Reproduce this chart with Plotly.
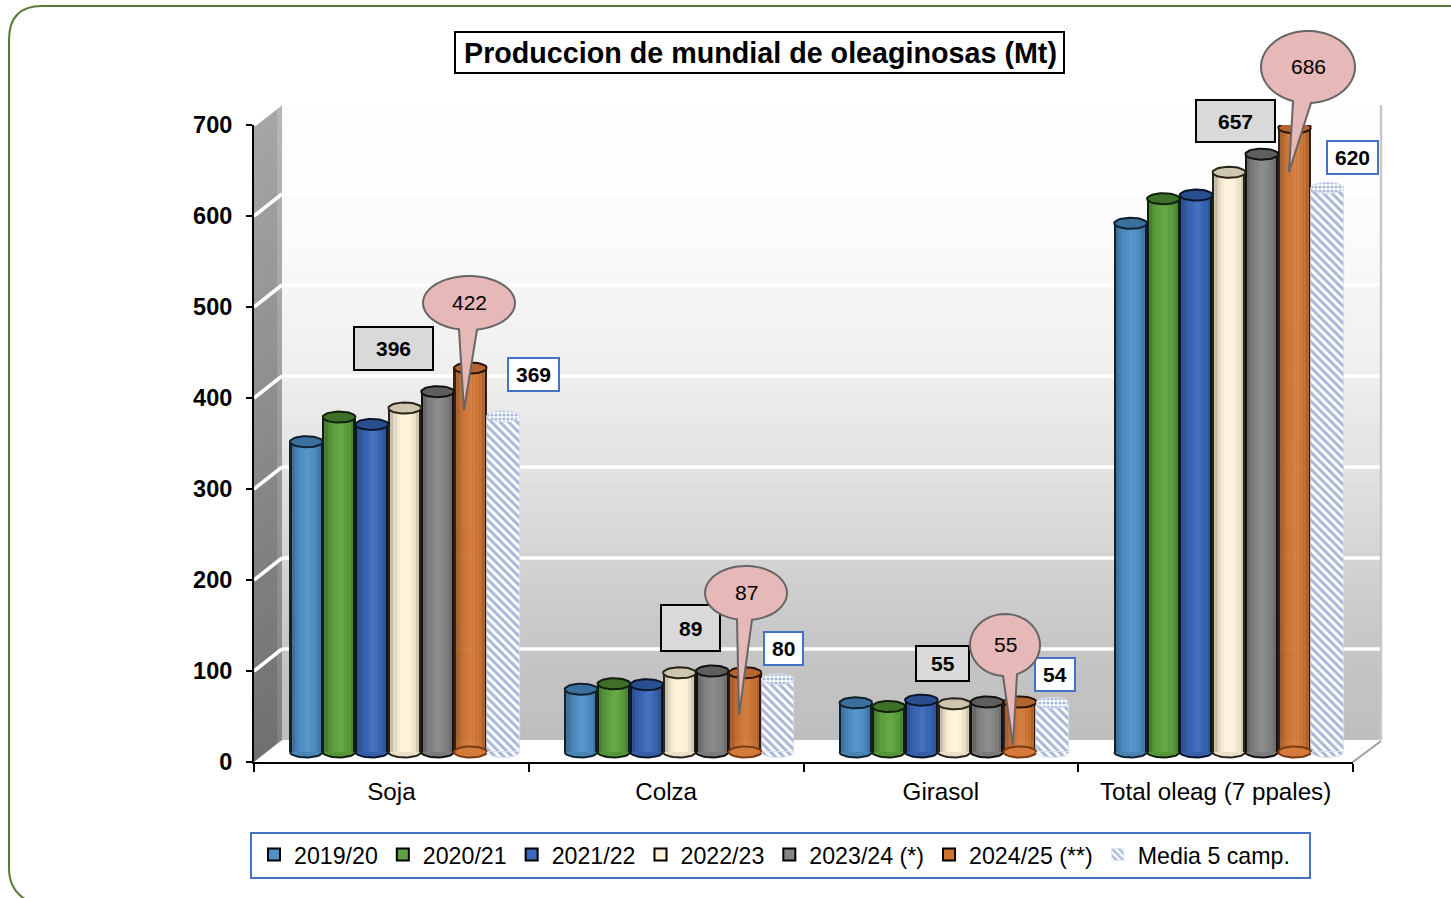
import plotly.graph_objects as go
import numpy as np

W, H = 1451, 898
categories = ["Soja", "Colza", "Girasol", "Total oleag (7 ppales)"]
series_names = ["2019/20", "2020/21", "2021/22", "2022/23", "2023/24 (*)", "2024/25 (**)", "Media 5 camp."]
v_2019 = [341, 69, 54, 581]
v_2020 = [368, 75, 50, 608]
v_2021 = [360, 74, 57, 612]
v_2022 = [378, 87, 53, 637]
v_2023 = [396, 89, 55, 657]
v_2024 = [422, 87, 55, 686]
v_media = [369, 80, 54, 620]
y_ticks = [0, 100, 200, 300, 400, 500, 600, 700]
series_values = [v_2019, v_2020, v_2021, v_2022, v_2023, v_2024, v_media]

base_colors = ["#4f90c6", "#5fa23f", "#3b68b8", "#fff3da", "#868686", "#d0722f"]
cap_colors = ["#3a6f9e", "#3f7029", "#2a4f90", "#cfc6b0", "#5e5e5e", "#b5652e"]
edge_colors = ["#10202c", "#10200c", "#0c1428", "#2a2418", "#111111", "#2a1206"]
PATTERN_BLUE = "#4f6fb0"

px_per_unit = 637 / 700
cat_px = 1099 / 4
bar_w = 32.8 / cat_px
ry = 5.5 / px_per_unit

def X(p): return p / W
def Y(p): return 1 - p / H
def hx(v):
    v = v.lstrip("#")
    return [int(v[i:i+2], 16) for i in (0, 2, 4)]
def tint(c, f):
    r = hx(c)
    if f <= 1:
        return "rgb(%d,%d,%d)" % tuple(int(a * f) for a in r)
    return "rgb(%d,%d,%d)" % tuple(int(a + (255 - a) * (f - 1) * 2) for a in r)

def poly(pts, **kw):
    path = "M" + "L".join(f"{X(a):.5f},{Y(b):.5f}" for a, b in pts) + "Z"
    return dict(type="path", xref="paper", yref="paper", path=path, **kw)

shapes = []
# back wall gradient
stops_y = [103, 230, 380, 470, 560, 650, 740]
stops_g = [255, 252, 238, 226, 212, 198, 190]
edges = np.linspace(103, 740, 65)
for a, b in zip(edges[:-1], edges[1:]):
    g = int(np.interp((a + b) / 2, stops_y, stops_g))
    shapes.append(poly([(282, a), (1381, a), (1381, b + 0.6), (282, b + 0.6)],
                       fillcolor=f"rgb({g},{g},{g})", line_width=0, layer="below"))
# side wall gradient
for a, b in zip(edges[:-1], edges[1:]):
    g = int(np.interp((a + b) / 2, [103, 740], [166, 112]))
    shapes.append(poly([(254, a + 22), (282, a), (282, b + 0.6), (254, b + 22.6)],
                       fillcolor=f"rgb({g},{g},{g})", line_width=0, layer="below"))
    shapes.append(poly([(277, a + 4), (282, a), (282, b + 0.6), (277, b + 4.6)],
                       fillcolor=f"rgb({g+18},{g+18},{g+18})", line_width=0, layer="below"))
# floor
shapes.append(poly([(254, 762), (1353, 762), (1381, 740), (282, 740)], fillcolor="#ffffff", line_width=0, layer="below"))
# gridlines on walls
for t in y_ticks[1:]:
    yb = 740 - t * px_per_unit
    for pts in ([(282, yb), (1381, yb)], [(254, yb + 22), (282, yb)]):
        shapes.append(dict(type="line", xref="paper", yref="paper", x0=X(pts[0][0]), y0=Y(pts[0][1]),
                           x1=X(pts[1][0]), y1=Y(pts[1][1]), line=dict(color="#ffffff", width=3.5), layer="below"))
# right edge
shapes.append(dict(type="line", xref="paper", yref="paper", x0=X(1381), y0=Y(105), x1=X(1381), y1=Y(740),
                   line=dict(color="#c8c8c8", width=2.5), layer="below"))
shapes.append(dict(type="line", xref="paper", yref="paper", x0=X(1353), y0=Y(762), x1=X(1381), y1=Y(741),
                   line=dict(color="#a0a0a0", width=2), layer="below"))
# outer frame
frame = (f"M{X(1455)},{Y(6)}L{X(42)},{Y(6)}Q{X(9)},{Y(6)} {X(9)},{Y(40)}L{X(9)},{Y(868)}"
         f"Q{X(9)},{Y(892)} {X(30)},{Y(902)}")
shapes.append(dict(type="path", xref="paper", yref="paper", path=frame, line=dict(color="#5b7a38", width=2), layer="below"))
# title box and legend box
shapes.append(dict(type="rect", xref="paper", yref="paper", x0=X(455), x1=X(1064), y0=Y(73), y1=Y(32),
                   fillcolor="#ffffff", line=dict(color="#000000", width=2), layer="below"))
shapes.append(dict(type="rect", xref="paper", yref="paper", x0=X(251), x1=X(1310), y0=Y(878), y1=Y(833),
                   fillcolor="#ffffff", line=dict(color="#4472c4", width=2), layer="below"))

annotations = [dict(xref="paper", yref="paper", x=X(760), y=Y(53), xanchor="center", yanchor="middle",
                    text="<b>Produccion de mundial de oleaginosas (Mt)</b>",
                    showarrow=False, font=dict(size=28.7, color="#000000"))]

def label(box, val, gray):
    x0, y0, x1, y1 = box
    shapes.append(dict(type="rect", xref="paper", yref="paper", x0=X(x0), x1=X(x1), y0=Y(y1), y1=Y(y0),
                       fillcolor="#d9d9d9" if gray else "#ffffff",
                       line=dict(color="#000000" if gray else "#4472c4", width=2), layer="above"))
    annotations.append(dict(xref="paper", yref="paper", x=X((x0 + x1) / 2), y=Y((y0 + y1) / 2),
                            xanchor="center", yanchor="middle", text=f"<b>{val}</b>",
                            showarrow=False, font=dict(size=21, color="#000000")))

def callout(cx, cy, rx, ryy, tip, b0, b1, val):
    # ellipse with a tail leaving from its lower edge
    a0 = np.arccos((b0 - cx) / rx)
    a1 = np.arccos((b1 - cx) / rx)
    th = np.linspace(a0, a1 + 2 * np.pi, 60)
    pts = [(cx + rx * np.cos(t), cy + ryy * np.sin(t)) for t in th] + [tip]
    shapes.append(poly(pts, fillcolor="#e6b8b7", line=dict(color="#666666", width=2), layer="above"))
    annotations.append(dict(xref="paper", yref="paper", x=X(cx), y=Y(cy - 1), xanchor="center", yanchor="middle",
                            text=str(val), showarrow=False, font=dict(size=21, color="#000000")))

gray_boxes = [(354, 327, 433, 370), (661, 605, 720, 651), (916, 646, 969, 681), (1196, 100, 1275, 142)]
blue_boxes = [(508, 358, 559, 391), (764, 632, 803, 665), (1035, 658, 1075, 691), (1327, 141, 1378, 174)]
calls = [(469, 303, 46, 27, (464, 410), 459, 477), (746, 593, 41, 27, (739, 715), 737, 752),
         (1005, 645, 35, 31, (1013, 745), 1003, 1017), (1308, 67, 47, 36, (1289, 172), 1293, 1311)]
for i in range(4):
    label(gray_boxes[i], v_2023[i], True)
    label(blue_boxes[i], v_media[i], False)
    c = calls[i]
    callout(c[0], c[1], c[2], c[3], c[4], c[5], c[6], v_2024[i])

fig = go.Figure()
# legend keys on the front axes
for k in range(6):
    fig.add_trace(go.Bar(x=categories, y=[None] * 4, name=series_names[k], xaxis="x", yaxis="y", hoverinfo="skip",
                         marker=dict(color=base_colors[k], line=dict(color="#000000", width=2))))

xs = np.arange(len(categories))
strip_edges = [0, .05, .15, .25, .35, .45, .55, .65, .75, .85, .95, 1]
strip_f = [0, .78, .9, .97, 1.0, 1.03, 1.02, .98, .93, .82, 0]
for k in range(6):
    vals = series_values[k]
    left = -3.5 * bar_w + k * bar_w
    op = 0.93 if k == 5 else 1
    for j, f in enumerate(strip_f):
        col = edge_colors[k] if f == 0 else tint(base_colors[k], f)
        s0, s1 = strip_edges[j], strip_edges[j + 1]
        ext = 0.03 if 0 < j < len(strip_f) - 1 else 0
        fig.add_trace(go.Bar(x=xs, y=vals, xaxis="x2", yaxis="y2", showlegend=False, hoverinfo="skip",
                             offset=left + s0 * bar_w, width=(s1 - s0 + ext) * bar_w,
                             marker=dict(color=col, opacity=op, line_width=0)))

# Media bars with hatching
fig.add_trace(go.Bar(x=xs, y=v_media, xaxis="x2", yaxis="y2", name=series_names[6], hoverinfo="skip",
                     offset=-3.5 * bar_w + 6 * bar_w, width=bar_w,
                     marker=dict(color="#ffffff", line=dict(color="#d5deee", width=0.8),
                                 pattern=dict(shape="\\", fgcolor=PATTERN_BLUE, bgcolor="#ffffff", size=6, solidity=0.5))))

th = np.linspace(0, 2 * np.pi, 40)
bt = np.linspace(np.pi, 2 * np.pi, 20)
for k in range(7):
    vals = series_values[k]
    centers = xs - 3.5 * bar_w + (k + 0.5) * bar_w
    cx, cy, bx, by = [], [], [], []
    for c, v in zip(centers, vals):
        cx += list(c + bar_w / 2 * np.cos(th)) + [None]
        cy += list(v + ry * np.sin(th)) + [None]
        aa = th if k == 5 else bt
        bx += list(c + bar_w / 2 * np.cos(aa)) + [None]
        by += list(ry * np.sin(aa)) + [None]
    if k < 6:
        fig.add_trace(go.Scatter(x=bx, y=by, xaxis="x2", yaxis="y2", mode="lines", fill="toself", showlegend=False,
                                 hoverinfo="skip", fillcolor=tint(base_colors[k], .92) if k != 5 else "#d67a3c",
                                 line=dict(color=edge_colors[k] if k != 5 else "#7a3a12", width=2)))
        fig.add_trace(go.Scatter(x=cx, y=cy, xaxis="x2", yaxis="y2", mode="lines", fill="toself", showlegend=False,
                                 hoverinfo="skip", fillcolor=cap_colors[k], line=dict(color=edge_colors[k], width=2)))
    else:
        fig.add_trace(go.Scatter(x=bx, y=by, xaxis="x2", yaxis="y2", mode="lines", fill="toself", showlegend=False,
                                 hoverinfo="skip", fillcolor="#ffffff", fillpattern=dict(shape="\\", fgcolor=PATTERN_BLUE, size=6, solidity=.5),
                                 line=dict(color="#d5deee", width=1)))
        fig.add_trace(go.Scatter(x=cx, y=cy, xaxis="x2", yaxis="y2", mode="lines", fill="toself", showlegend=False,
                                 hoverinfo="skip", fillcolor="#ffffff", fillpattern=dict(shape=".", fgcolor=PATTERN_BLUE, size=4, solidity=.5),
                                 line=dict(color="#d5deee", width=1)))

xdom = [X(254), X(1353)]
ydom = [Y(762), Y(125)]
shift = 13.4 / cat_px
fig.update_layout(
    width=W, height=H, margin=dict(l=0, r=0, t=0, b=0, autoexpand=False), autosize=False,
    paper_bgcolor="#ffffff", plot_bgcolor="rgba(0,0,0,0)",
    barmode="overlay", bargap=0, showlegend=True, hovermode=False,
    font=dict(family="Liberation Sans, Arial, sans-serif", color="#000000"),
    shapes=shapes, annotations=annotations,
    xaxis=dict(domain=xdom, type="category", categoryorder="array", categoryarray=categories, range=[-.5, 3.5],
               tickson="boundaries", ticks="outside", ticklen=8, tickwidth=1.5, tickcolor="#000000",
               showline=True, linecolor="#000000", linewidth=2, showgrid=False, zeroline=False,
               tickfont=dict(size=24.2, color="#000000"), anchor="y", ticklabelstandoff=7, fixedrange=True),
    yaxis=dict(domain=ydom, range=[0, 700], tickvals=y_ticks, ticktext=[f"<b>{t}</b>" for t in y_ticks],
               ticks="outside", ticklen=6, tickwidth=1.5, tickcolor="#000000", showline=True, linecolor="#000000", linewidth=2,
               showgrid=False, zeroline=False, tickfont=dict(size=23.5, color="#000000"), anchor="x", fixedrange=True,
               ticklabelstandoff=9),
    xaxis2=dict(domain=xdom, range=[-.5 - shift, 3.5 - shift], overlaying="x", visible=False, anchor="y2", fixedrange=True),
    yaxis2=dict(domain=ydom, range=[-10 / px_per_unit, 700 - 10 / px_per_unit], overlaying="y", visible=False, anchor="x2", fixedrange=True),
    legend=dict(orientation="h", x=X(254), xanchor="left", y=Y(855), yanchor="middle", bgcolor="rgba(0,0,0,0)",
                font=dict(size=23.2, color="#000000"), borderwidth=0, traceorder="normal", tracegroupgap=0),
)
fig.write_html("out.html", config=dict(displayModeBar=False),
               post_script="document.body.style.margin='0';document.body.style.overflow='hidden';")
